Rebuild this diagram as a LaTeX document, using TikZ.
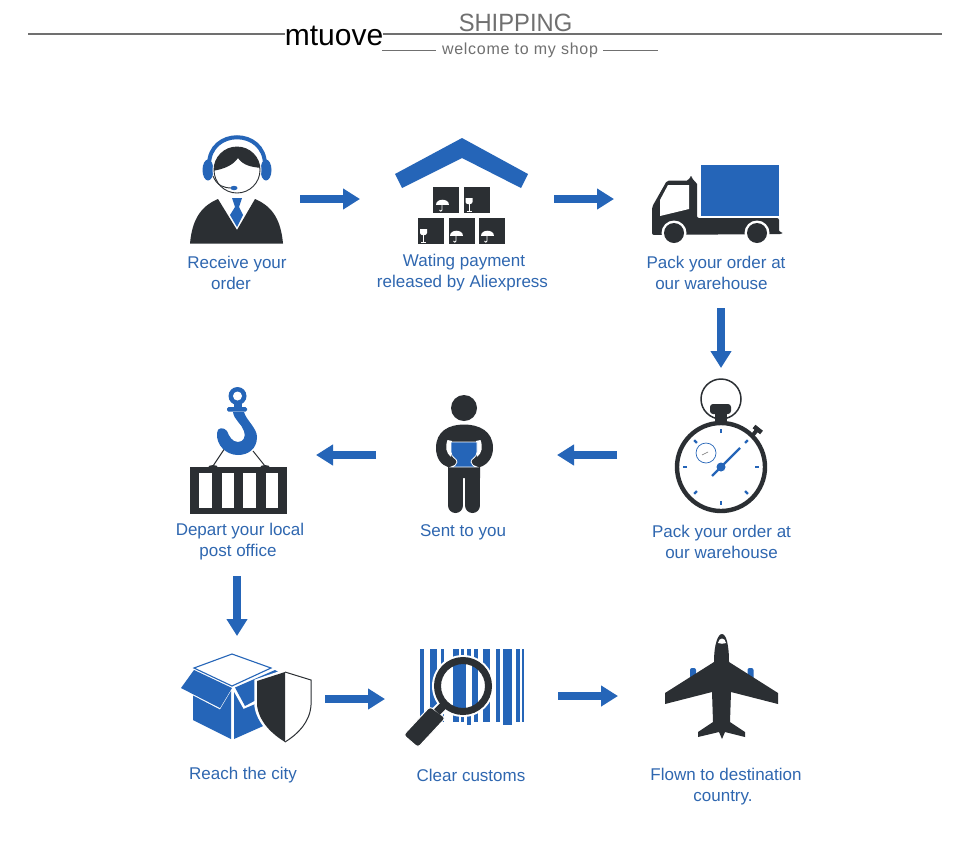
\documentclass[tikz,border=0pt]{standalone}
\usepackage{fontspec}
\setmainfont{Liberation Sans}
\usetikzlibrary{arrows.meta}
\definecolor{bl}{HTML}{2565B8}
\definecolor{dk}{HTML}{2B2F33}
\definecolor{txt}{HTML}{2F67B0}
\definecolor{gr}{HTML}{707070}
\tikzset{
  x=1pt,y=-1pt,
  flow/.style={draw=bl,line width=7.5pt,-{Triangle[length=17pt,width=20pt]}},
  lab/.style={text=txt,font=\fontsize{17}{21}\selectfont,align=center,inner sep=0pt},
  umbrella/.pic={
    \fill[white] (-6.5,0) .. controls (-6.5,-7.5) and (6.5,-7.5) .. (6.5,0) -- cycle;
    \draw[white,line width=.9pt] (0,0) -- (0,5) .. controls (0,6.5) and (-2.5,6.5) .. (-2.5,5);
  },
  glass/.pic={
    \fill[white] (-3.5,-7) -- (3.5,-7) -- (3.5,-3) .. controls (3.5,0) and (-3.5,0) .. (-3.5,-3) -- cycle;
    \draw[white,line width=.9pt] (0,-1) -- (0,6) (-2.5,6) -- (2.5,6);
  }
}
\begin{document}
\begin{tikzpicture}
\useasboundingbox (0,0) rectangle (960,860);
\fill[white] (0,0) rectangle (960,860);

% header
\coordinate (hl) at (28,33.5); \coordinate (hr) at (942,33.5);
\draw[gr,line width=2pt] (hl) -- (hr);
\node[fill=white,inner sep=0pt,minimum width=98pt,minimum height=24pt,font=\fontsize{30}{31}\selectfont] (brand) at (334,35.5) {mtuove};
\node[text=gr,inner sep=0pt,font=\fontsize{25}{27}\selectfont,xscale=.95] (ship) at (515.5,23) {SHIPPING};
\node[text=gr,inner sep=0pt,font=\fontsize{16}{18}\selectfont\addfontfeature{LetterSpace=4.5}] (welc) at (520,50.5) {welcome to my shop};
\coordinate (wa) at (382,50); \coordinate (wb) at (436,50);
\coordinate (wc) at (603,50); \coordinate (wd) at (658,50);
\draw[gr,line width=1pt] (wa) -- (wb) (wc) -- (wd);

% person with headset
\fill[dk] (190,243.5) .. controls (192,222) and (199,207) .. (218,199) -- (237,230) -- (255,199) .. controls (274,207) and (281,222) .. (283,243.5) -- cycle;
\fill[bl] (232,198) -- (242,198) -- (239,207) -- (243,215) -- (237,227) -- (230,215) -- (235,207) -- cycle;
\draw[bl,line width=4pt] (209,165) .. controls (209,128) and (265,128) .. (265,165);
\fill[bl] (208,170) ellipse [x radius=5.5,y radius=10.5];
\fill[bl] (266,170) ellipse [x radius=5.5,y radius=10.5];
\fill[white] (237,170) circle [radius=24.5];
\begin{scope}
  \clip (237,170) circle [radius=23];
  \fill[dk] (212,171) .. controls (225,169) and (233,165) .. (238,158) .. controls (243,165) and (250,167) .. (262,168) -- (262,140) -- (212,140) -- cycle;
\end{scope}
\draw[dk,line width=.9pt] (237,170) circle [radius=23];
\draw[dk,line width=.9pt] (213,176) .. controls (217,186) and (224,188) .. (232,188);
\fill[bl] (234,188) ellipse [x radius=3.5,y radius=2.2];

% warehouse
\fill[bl] (462,138) -- (528,174) -- (521,188) -- (462,158) -- (402,188) -- (395,174) -- cycle;
\foreach \bx/\by in {433/187,464/187,418/218,449/218,479/218}
  \fill[dk] (\bx,\by) rectangle ++(26,26);
\path (442,205) pic {umbrella} (469,205) pic {glass} (423.5,236) pic {glass}
      (456,236) pic {umbrella} (487,236) pic {umbrella};

% truck
\fill[dk,rounded corners=2pt] (652,207) -- (667,180.5) -- (689,180.5) -- (690,176) -- (692,176) -- (693,181) -- (697,182) -- (697,218) -- (779,218) -- (779,232) -- (782,232) -- (782,234) -- (652,235) -- cycle;
\fill[white] (660,200) -- (668,185) -- (689,185) -- (689,209) -- (660,216) -- cycle;
\fill[bl] (701,165) rectangle (779,216);
\foreach \wx in {674,757} {
  \fill[white] (\wx,233) circle [radius=12.5];
  \fill[dk] (\wx,233) circle [radius=10];
}

% stopwatch
\draw[dk,line width=1.5pt] (721,399) circle [radius=20];
\fill[dk,rounded corners=3pt] (710,404) rectangle (731,414);
\fill[dk] (715,412) rectangle (727,424);
\draw[dk,line width=4pt] (752,436) -- (757,430);
\draw[dk,line width=4.5pt] (754,426.5) -- (761.5,432.5);
\fill[white] (721,467) circle [radius=45];
\draw[dk,line width=4.4pt] (721,467) circle [radius=44];
\begin{scope}[shift={(721,467)}]
  \foreach \a in {0,45,...,315}
    \draw[bl,line width=2.2pt] (\a:34) -- (\a:38);
\end{scope}
\draw[bl,line width=.7pt] (706,453) circle [radius=10];
\draw[gr,line width=.6pt] (702,455) -- (708,452);
\draw[bl,line width=2.2pt] (712,476) -- (740,448);
\fill[bl] (721,467) circle [radius=4.5];

% man with cup
\fill[dk] (464,408) circle [radius=13];
\fill[dk] (436,448) .. controls (436,431) and (449,424.5) .. (464,424.5) .. controls (479,424.5) and (493,431) .. (493,448) .. controls (493,458) and (487,465) .. (480,467) -- (480,478) -- (448,478) -- (448,467) .. controls (441,465) and (436,458) .. (436,448) -- cycle;
\draw[dk,line width=15pt,line cap=round] (455.5,470) -- (455.5,505.5);
\draw[dk,line width=15pt,line cap=round] (472.5,470) -- (472.5,505.5);
\fill[white] (447.5,440) .. controls (445,447) and (446,453) .. (451,457) -- (452,441) -- cycle;
\fill[white] (480.5,440) .. controls (483,447) and (482,453) .. (477,457) -- (476,441) -- cycle;
\fill[bl,draw=white,line width=.8pt] (451,442) -- (477,442) -- (477,452) .. controls (477,458) and (471,458) .. (471,462) .. controls (471,465) and (474,466) .. (477,467) -- (451,467) .. controls (454,466) and (457,465) .. (457,462) .. controls (457,458) and (451,458) .. (451,452) -- cycle;

% hook and container
\draw[dk,line width=1pt] (231,439) -- (213,466);
\draw[dk,line width=1pt] (253,451) -- (265,466);
\fill[dk] (190,467) rectangle (287,513.5);
\fill[dk] (213,467.5) ellipse [x radius=5,y radius=2.5];
\fill[dk] (265,467.5) ellipse [x radius=5,y radius=2.5];
\foreach \wa/\wb in {199/212,222/234,243/256,266/278}
  \fill[white] (\wa,473) rectangle (\wb,508);
\fill[bl] (233,412) -- (244,412) .. controls (246,420) and (257,428) .. (257,437) .. controls (257,449) and (248,455) .. (238,455) .. controls (226,455) and (216,445) .. (217,433) .. controls (217,427) and (224,427) .. (227,431) .. controls (229,436) and (232,442) .. (238,442) .. controls (244,442) and (246,436) .. (244,431) .. controls (242,424) and (234,420) .. (233,412) -- cycle;
\fill[bl,rounded corners=1.5pt] (227,407) rectangle (247,411.5);
\fill[bl] (233.5,403) rectangle (241.5,408);
\fill[bl] (237.5,396) circle [radius=9];
\fill[white] (237.5,396) circle [radius=4.5];

% box and shield
\draw[bl,line width=1.1pt,fill=white] (194,668) -- (232,654) -- (271,668) -- (232,686) -- cycle;
\fill[bl] (194,670) -- (232,688) -- (220,708) -- (181,688) -- cycle;
\fill[bl] (193,695.5) -- (220,709.5) -- (231,691) -- (231,739) -- (193,720) -- cycle;
\fill[bl] (234,692) -- (243.5,709) -- (260,702) -- (275,715) -- (270,723) -- (234,739) -- cycle;
\fill[bl] (235,687.5) -- (275,670) -- (292,680) -- (258,699) -- (245,706) -- cycle;
\draw[white,line width=3.5pt,fill=white] (285,671) -- (256,681) -- (256,705) .. controls (258,722) and (272,735) .. (285,743) .. controls (298,735) and (312,722) .. (312,705) -- (312,680) -- cycle;
\fill[dk] (285,672) -- (257,681) -- (257,705) .. controls (259,722) and (272,734) .. (285,742) -- cycle;
\draw[dk,line width=1pt] (285,672) -- (311,680) -- (311,705) .. controls (310,722) and (298,734) .. (285,742);

% barcode
\foreach \ba/\bb/\bc in {420/424/722,430/437/722,441/444/722,453/459/722,461/464/722,467/471/725,474/478/722,483/490/722,496/500/722,503/512/725,516/520/722,522/524/722}
  \fill[bl] (\ba,649) rectangle (\bb,\bc);
\fill[white] (463,686) circle [radius=31];
\begin{scope}
  \clip (463,686) circle [radius=23];
  \fill[bl] (453,650) rectangle (466,725);
  \fill[bl] (472,650) rectangle (478,725);
\end{scope}
\draw[dk,line width=7pt] (463,686) circle [radius=25.5];
\draw[white,line width=12pt] (441,708) -- (436,713);
\fill[dk,draw=white,line width=1pt,rounded corners=3pt] (430,706.5) -- (445.5,718) -- (418,747.5) -- (403.5,735) -- cycle;
\draw[dk,line width=8pt] (446,703) -- (437,712);

% plane
\fill[bl,rounded corners=2pt] (690,668) rectangle (696,680);
\fill[bl,rounded corners=2pt] (747.5,668) rectangle (753.5,680);
\fill[dk] (722,634) .. controls (726,634) and (729,644) .. (729,662) -- (778,693) -- (778,704) -- (731,692) -- (730,722) -- (745,732) -- (745,737) -- (725,732) -- (722,739) -- (719,732) -- (698,737) -- (698,732) -- (713,722) -- (712,692) -- (665,704) -- (665,693) -- (714,662) .. controls (714,644) and (718,634) .. (722,634) -- cycle;
\fill[white] (718,643) .. controls (719,637) and (725,637) .. (726,643) .. controls (723,644) and (721,644) .. (718,643) -- cycle;

% labels
\node[lab] (l1) at (237,273) {Receive your\\order\rule{12pt}{0pt}};
\node[lab] (l2) at (462.5,272.5) {\rule{3pt}{0pt}Wating payment\\released by Aliexpress};
\node[lab] (l3) at (716,272.5) {Pack your order at\\our warehouse\rule{9pt}{0pt}};
\node[lab] (l4) at (721.5,541.5) {Pack your order at\\our warehouse};
\node[lab] (l5) at (463,532) {Sent to you};
\node[lab] (l6) at (240,542) {Depart your local\\post office\rule{4pt}{0pt}};
\node[lab] (l7) at (243,775.5) {Reach the city};
\node[lab] (l8) at (471,775.5) {Clear customs};
\node[lab] (l9) at (726,787) {Flown to destination\\country.\rule{6pt}{0pt}};

% flow arrows
\coordinate (a1s) at (300,199); \coordinate (a1e) at (360,199);
\coordinate (a2s) at (554,199); \coordinate (a2e) at (614,199);
\coordinate (a3s) at (721,308); \coordinate (a3e) at (721,368);
\coordinate (a4s) at (617,455); \coordinate (a4e) at (557,455);
\coordinate (a5s) at (376,455); \coordinate (a5e) at (316,455);
\coordinate (a6s) at (237,576); \coordinate (a6e) at (237,636);
\coordinate (a7s) at (325,699); \coordinate (a7e) at (385,699);
\coordinate (a8s) at (558,696); \coordinate (a8e) at (618,696);
\foreach \n in {1,...,8} \draw[flow] (a\n s) -- (a\n e);
\end{tikzpicture}
\end{document}
